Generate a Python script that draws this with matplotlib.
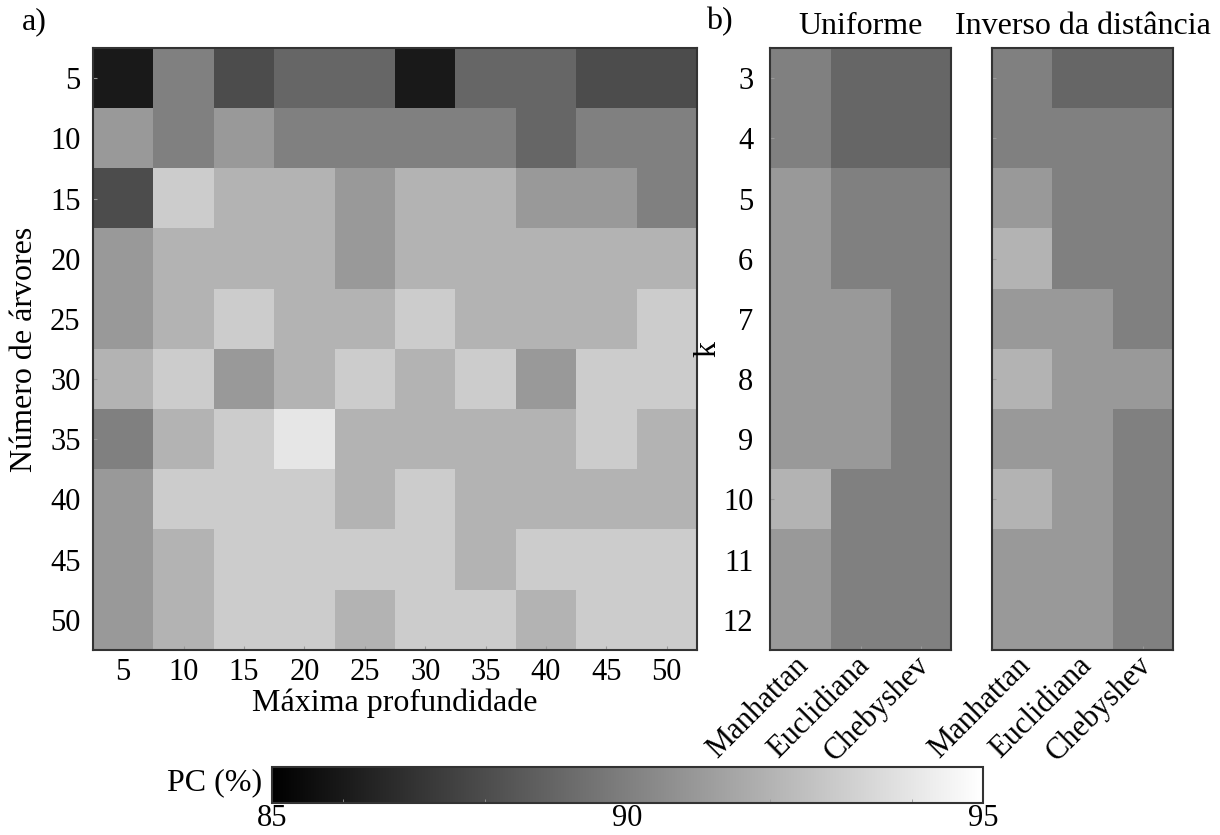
import numpy as np
import matplotlib
matplotlib.use("Agg")
import matplotlib.pyplot as plt
import matplotlib.transforms as mtransforms
from matplotlib.ticker import FixedLocator

plt.rcParams['font.family'] = ['Liberation Serif', 'DejaVu Serif']
plt.rcParams['mathtext.fontset'] = 'stix'

# Random forest grid: rows = number of trees, cols = max depth (PC, %)
n_trees = [5, 10, 15, 20, 25, 30, 35, 40, 45, 50]
max_depth = [5, 10, 15, 20, 25, 30, 35, 40, 45, 50]
pc_rf = [
    [86, 90, 88, 89, 89, 86, 89, 89, 88, 88],
    [91, 90, 91, 90, 90, 90, 90, 89, 90, 90],
    [88, 93, 92, 92, 91, 92, 92, 91, 91, 90],
    [91, 92, 92, 92, 91, 92, 92, 92, 92, 92],
    [91, 92, 93, 92, 92, 93, 92, 92, 92, 93],
    [92, 93, 91, 92, 93, 92, 93, 91, 93, 93],
    [90, 92, 93, 94, 92, 92, 92, 92, 93, 92],
    [91, 93, 93, 93, 92, 93, 92, 92, 92, 92],
    [91, 92, 93, 93, 93, 93, 92, 93, 93, 93],
    [91, 92, 93, 93, 92, 93, 93, 92, 93, 93],
]

# k-NN: rows = k, cols = distance metric
k_values = [3, 4, 5, 6, 7, 8, 9, 10, 11, 12]
metrics = ["Manhattan", "Euclidiana", "Chebyshev"]
pc_knn_uniform = [
    [90, 89, 89],
    [90, 89, 89],
    [91, 90, 90],
    [91, 90, 90],
    [91, 91, 90],
    [91, 91, 90],
    [91, 91, 90],
    [92, 90, 90],
    [91, 90, 90],
    [91, 90, 90],
]
pc_knn_distance = [
    [90, 89, 89],
    [90, 90, 90],
    [91, 90, 90],
    [92, 90, 90],
    [91, 91, 90],
    [92, 91, 91],
    [91, 91, 90],
    [92, 91, 90],
    [91, 91, 90],
    [91, 91, 90],
]
weight_titles = ["Uniforme", "Inverso da distância"]

vmin, vmax = 85, 95
W, H = 1220, 835
fig = plt.figure(figsize=(W / 100, H / 100), dpi=100)

def px_axes(x0, y0, x1, y1):
    return fig.add_axes([x0 / W, 1 - y1 / H, (x1 - x0) / W, (y1 - y0) / H])

FS = 23      # axis labels, titles
TFS = 22     # tick labels
edge = "#333333"

def style(ax):
    for s in ax.spines.values():
        s.set_color(edge)
        s.set_linewidth(1.5)
    ax.tick_params(direction="in", length=3, color="#999999", labelsize=TFS)
    ax.tick_params(axis="y", pad=9)
    ax.tick_params(axis="x", pad=6)

# Panel a
ax_a = px_axes(93, 48, 697, 650)
im = ax_a.imshow(np.array(pc_rf), cmap="gray", vmin=vmin, vmax=vmax,
                 aspect="auto", interpolation="nearest")
ax_a.set_xticks(range(len(max_depth)))
ax_a.set_xticklabels([str(v) for v in max_depth])
ax_a.set_yticks(range(len(n_trees)))
ax_a.set_yticklabels([str(v) for v in n_trees])
ax_a.set_xlabel("Máxima profundidade", fontsize=FS, labelpad=1)
ax_a.set_ylabel("Número de árvores", fontsize=FS, labelpad=8)
style(ax_a)
fig.text(22 / W, 1 - 22 / H, "a)", fontsize=FS, va="center", ha="left")

# Panel b
shift = mtransforms.ScaledTranslation(-6 / 100, 2 / 100, fig.dpi_scale_trans)
boxes = [(770, 951), (992, 1173)]
for i, (data, title, (x0, x1)) in enumerate(zip([pc_knn_uniform, pc_knn_distance],
                                                  weight_titles, boxes)):
    ax = px_axes(x0, 48, x1, 650)
    ax.imshow(np.array(data), cmap="gray", vmin=vmin, vmax=vmax,
              aspect="auto", interpolation="nearest")
    ax.set_xticks(range(len(metrics)))
    ax.set_xticklabels(metrics, rotation=45, ha="right", va="top",
                       rotation_mode="anchor", fontsize=TFS)
    ax.set_yticks(range(len(k_values)))
    style(ax)
    if i == 0:
        ax.set_yticklabels([str(v) for v in k_values])
        ax.set_ylabel("k", fontsize=FS, labelpad=0)
    else:
        ax.set_yticklabels([])
    ax.tick_params(axis="y", pad=12)
    ax.tick_params(axis="x", pad=2)
    for lbl in ax.get_xticklabels():
        lbl.set_transform(lbl.get_transform() + shift)
    fig.text((x0 + x1) / 2 / W, 1 - 27 / H, title, fontsize=FS,
             ha="center", va="center")
fig.text(706 / W, 1 - 22 / H, "b)", fontsize=FS, va="center", ha="left")

# Colour bar
cax = px_axes(272, 767, 983, 803)
cb = fig.colorbar(im, cax=cax, orientation="horizontal")
cb.outline.set_edgecolor(edge)
cb.outline.set_linewidth(1.5)
cb.set_ticks([85, 90, 95])
cax.xaxis.set_minor_locator(FixedLocator([86, 88, 90, 92, 94]))
cax.tick_params(which="major", length=0, labelsize=TFS, pad=1)
cax.tick_params(which="minor", direction="in", length=3, color="#999999")
fig.text(262 / W, 1 - 783 / H, "PC (%)", fontsize=FS, ha="right", va="center")

fig.savefig("out.png", dpi=100)
